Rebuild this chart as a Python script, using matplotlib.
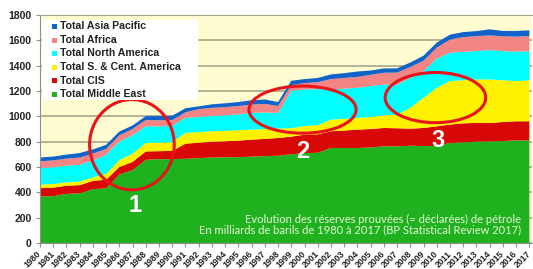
import matplotlib.pyplot as plt
from matplotlib.patches import Ellipse, Rectangle

# proven oil reserves, billions of barrels
years = list(range(1980, 2018))
middle_east = [367, 370, 388, 392, 425, 432, 540, 575, 657, 662, 662, 665, 670, 675, 677, 678, 682, 686, 689,
               700, 710, 712, 750, 750, 750, 755, 763, 763, 768, 765, 766, 790, 794, 800, 802, 805, 810, 810]
cis = [66, 67, 64, 65, 65, 68, 60, 65, 66, 63, 65, 119, 122, 125, 126, 130, 134, 136, 140,
       140, 145, 146, 132, 138, 145, 145, 145, 143, 135, 143, 155, 145, 151, 148, 145, 150, 151, 151]
s_c_america = [27, 29, 26, 28, 28, 45, 55, 65, 67, 67, 68, 85, 83, 82, 82, 82, 79, 78, 75,
               66, 68, 72, 92, 92, 92, 95, 100, 106, 164, 238, 304, 343, 340, 343, 344, 330, 317, 324]
north_america = [132, 132, 132, 133, 132, 152, 145, 145, 131, 129, 130, 118, 120, 121, 123, 125, 132, 130, 123,
                 295, 289, 285, 238, 238, 238, 243, 243, 237, 237, 211, 230, 224, 225, 224, 232, 230, 232, 230]
africa = [53, 54, 56, 56, 56, 45, 50, 50, 50, 48, 45, 45, 62, 64, 65, 66, 66, 68, 55,
          45, 50, 55, 82, 85, 86, 90, 93, 96, 86, 82, 87, 104, 115, 118, 116, 117, 119, 119]
asia_pacific = [30, 30, 32, 36, 33, 33, 30, 28, 31, 33, 35, 32, 22, 28, 30, 32, 34, 35, 31,
                35, 32, 33, 37, 38, 43, 34, 34, 34, 35, 40, 40, 39, 40, 40, 48, 42, 45, 45]

labels = ["Total Middle East", "Total CIS", "Total S. & Cent. America",
          "Total North America", "Total Africa", "Total Asia Pacific"]
colors = ["#20b21e", "#d80808", "#fff200", "#00ffff", "#f38585", "#1263c9"]

# highlighted zones: (year, value, width in years, height in value)
zones = [(1986.95, 776, 6.4, 713), (1999.85, 1053, 8.1, 372), (2009.9, 1148, 7.6, 396)]
zone_labels = [("1", 1987.2, 293), ("2", 1999.9, 721), ("3", 2010.1, 808)]

W, H = 533, 269
fig = plt.figure(figsize=(W / 100, H / 100), dpi=100)
fig.patch.set_facecolor("white")
ax = fig.add_axes([40 / W, 1 - 243 / H, 492 / W, 228 / H])
ax.set_facecolor("#fffcd2")

ax.stackplot(years, middle_east, cis, s_c_america, north_america, africa, asia_pacific,
             colors=colors, linewidth=0)

ax.set_xlim(1980, 2017.2)
ax.set_ylim(0, 1800)
ax.set_yticks(range(0, 1801, 200))
ax.set_xticks(years)
ax.yaxis.grid(True, color="#a9a58b", lw=1.2)
ax.set_axisbelow(True)

ax.spines["right"].set_visible(False)
ax.spines["top"].set_color("#a9a58b")
ax.spines["left"].set_color("#909090")
ax.spines["bottom"].set_color("#909090")

ax.tick_params(axis="y", length=3, color="#909090", pad=3)
ax.tick_params(axis="x", length=3, color="#909090", pad=4)
for lab in ax.get_yticklabels():
    lab.set_fontsize(7.5)
    lab.set_fontweight("bold")
    lab.set_family("Liberation Sans")
    lab.set_color("#222222")
ax.set_xticklabels([str(y) for y in years], rotation=45, ha="right", va="center",
                   rotation_mode="anchor", fontsize=6.3, fontweight="bold",
                   family="Liberation Sans", color="#222222")

for (x, y, w, h) in zones:
    ax.add_patch(Ellipse((x, y), w, h, fill=False, edgecolor="#e8141a", lw=2.2, zorder=5))
for (t, x, y) in zone_labels:
    ax.text(x, y, t, color="white", fontsize=17, fontweight="bold", family="Liberation Sans",
            ha="center", va="center", zorder=6)

# legend box drawn by hand, top-left of the plot
def fx(px):
    return px / W

def fy(py):
    return 1 - py / H

fig.patches.append(Rectangle((fx(42), fy(100)), fx(198) - fx(42), fy(20) - fy(100),
                             transform=fig.transFigure, facecolor="white", edgecolor="none", zorder=3))
rows = [26, 40, 53.5, 67, 80.5, 94]
for i, yy in enumerate(rows):
    k = len(labels) - 1 - i
    fig.patches.append(Rectangle((fx(52), fy(yy + 2.5)), fx(57) - fx(52), fy(yy - 2.5) - fy(yy + 2.5),
                                 transform=fig.transFigure, facecolor=colors[k], edgecolor="none", zorder=4))
    fig.text(fx(60), fy(yy), labels[k], fontsize=7.6, fontweight="bold", family="Liberation Sans",
             color="#222222", ha="left", va="center", zorder=5)

fig.text(fx(521), fy(219), "Evolution des réserves prouvées (= déclarées) de pétrole",
         fontsize=8, family="Lato", color="#e8f6d8", ha="right", va="center")
fig.text(fx(521), fy(230), "En milliards de barils de 1980 à 2017 (BP Statistical Review 2017)",
         fontsize=8, family="Lato", color="#e8f6d8", ha="right", va="center")

fig.savefig("out.png", dpi=100)
